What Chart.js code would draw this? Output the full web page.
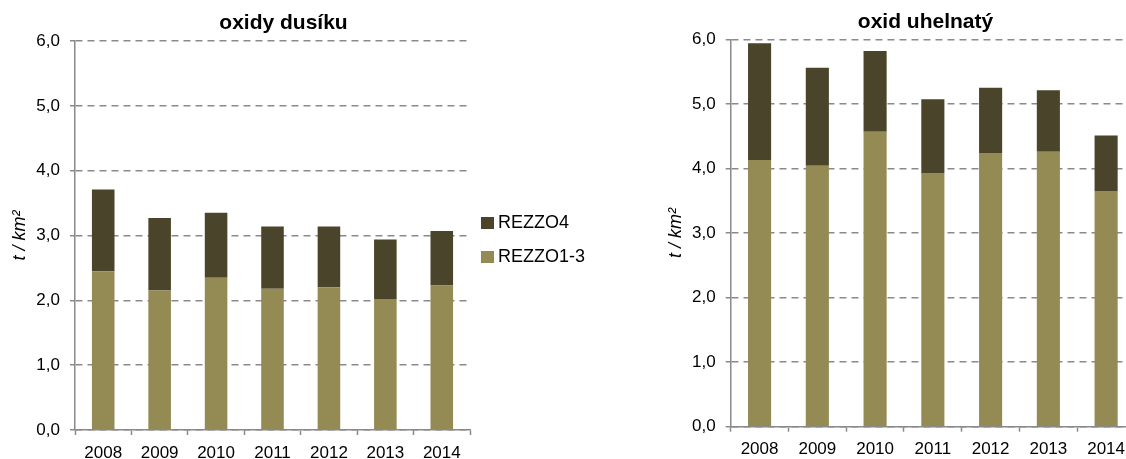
<!DOCTYPE html>
<html>
<head>
<meta charset="utf-8">
<script src="https://cdn.jsdelivr.net/npm/chart.js@4.4.0/dist/chart.umd.min.js"></script>
<style>
  html, body { margin: 0; padding: 0; background: #fff; }
  body { width: 1126px; height: 459px; overflow: hidden; position: relative; }
  canvas { position: absolute; top: 0; }
  #c1 { left: -28px; width: 623px; height: 480px; }
  #c2 { left: 640px; width: 571px; height: 480px; }
</style>
</head>
<body>
<canvas id="c1" width="623" height="480"></canvas>
<canvas id="c2" width="571" height="480"></canvas>
<script>
// ---- data ----
const categories = ['2008', '2009', '2010', '2011', '2012', '2013', '2014'];
const seriesNames = ['REZZO1-3', 'REZZO4'];
const noxRezzo13 = [2.45, 2.15, 2.35, 2.18, 2.20, 2.02, 2.23];
const noxRezzo4  = [1.26, 1.12, 1.00, 0.96, 0.94, 0.92, 0.84];
const coRezzo13  = [4.13, 4.04, 4.57, 3.93, 4.24, 4.26, 3.65];
const coRezzo4   = [1.81, 1.52, 1.25, 1.14, 1.01, 0.95, 0.86];
const yTickLabels = ['0,0', '1,0', '2,0', '3,0', '4,0', '5,0', '6,0'];
const titles = ['oxidy dusíku', 'oxid uhelnatý'];
const yAxisTitle = 't / km²';

// ---- styles ----
const FAMILY = "'Liberation Sans', Arial, sans-serif";
const colR13 = '#948A54';
const colR4 = '#4A452A';
const axisColor = '#8a8a8a';
const gridColor = '#8a8a8a';

Chart.defaults.font.family = FAMILY;
Chart.defaults.color = '#000';

function swatch(color) {
  const c = document.createElement('canvas');
  c.width = 13; c.height = 12;
  const g = c.getContext('2d');
  g.fillStyle = color;
  g.fillRect(0, 0, 13, 12);
  return c;
}
const swatches = [swatch(colR13), swatch(colR4)];

function makeChart(el, d13, d4, cfg) {
  const scales = {
    x: {
      stacked: true,
      ticks: { color: '#000', font: { size: 17 }, padding: cfg.xTickPad, maxRotation: 0, autoSkip: false },
      grid: { drawOnChartArea: false, drawTicks: true, tickLength: 5, tickColor: axisColor, tickWidth: 1.5 },
      border: { display: true, color: axisColor, width: 1.5 },
      afterFit: s => { s.height = cfg.xHeight; }
    },
    y: {
      stacked: true,
      min: 0, max: 6,
      ticks: { stepSize: 1, color: '#000', font: { size: 17 }, padding: 10,
               callback: (v, i) => yTickLabels[i] },
      grid: { color: gridColor, lineWidth: 1.5, drawTicks: true, tickLength: 5,
              tickColor: axisColor, tickWidth: 1.5, tickBorderDash: [] },
      border: { display: true, color: axisColor, width: 1.5, dash: [7, 5] },
      title: { display: true, text: yAxisTitle, color: '#000',
               font: { size: 18, style: 'italic' }, padding: { top: cfg.yTitlePad, bottom: 0 } },
      afterFit: s => { s.width = cfg.yWidth; }
    }
  };
  if (cfg.rightSpace) {
    // empty spacer on the right (outside the visible page) so the title centres like the original
    scales.spacer = {
      type: 'linear', position: 'right', display: true,
      grid: { display: false }, ticks: { display: false }, border: { display: false },
      afterFit: s => { s.width = cfg.rightSpace; }
    };
  }
  return new Chart(el, {
    type: 'bar',
    data: {
      labels: categories,
      datasets: [
        { label: seriesNames[0], data: d13, backgroundColor: colR13, borderWidth: 0,
          barPercentage: 0.4, categoryPercentage: 1.0 },
        { label: seriesNames[1], data: d4, backgroundColor: colR4, borderWidth: 0,
          barPercentage: 0.4, categoryPercentage: 1.0 }
      ]
    },
    options: {
      responsive: false,
      animation: false,
      devicePixelRatio: 1,
      layout: { padding: cfg.layoutPadding },
      plugins: {
        tooltip: { enabled: false },
        title: {
          display: true, text: cfg.title, color: '#000',
          font: { size: 21, weight: 'bold', family: FAMILY },
          padding: cfg.titlePadding
        },
        legend: cfg.legend
      },
      scales: scales
    }
  });
}

makeChart(document.getElementById('c1'), noxRezzo13, noxRezzo4, {
  title: titles[0],
  layoutPadding: { left: 0, right: 0, top: 0, bottom: 0 },
  titlePadding: { top: 11.1, bottom: 4.7 },
  xTickPad: 7.9,
  xHeight: 50,
  yWidth: 103,
  yTitlePad: 37.6,
  legend: {
    display: true,
    position: 'right',
    fullSize: true,
    reverse: true,
    maxWidth: 125,
    labels: {
      usePointStyle: true,
      pointStyleWidth: 3,
      padding: 16,
      color: '#000',
      font: { size: 18 },
      generateLabels: chart => Chart.defaults.plugins.legend.labels.generateLabels(chart)
        .map(it => Object.assign({}, it, { pointStyle: swatches[it.datasetIndex] }))
    }
  }
});

makeChart(document.getElementById('c2'), coRezzo13, coRezzo4, {
  title: titles[1],
  layoutPadding: { left: 0, right: 0, top: 0, bottom: 0 },
  titlePadding: { top: 10.1, bottom: 4 },
  xTickPad: 7.2,
  xHeight: 53.3,
  yWidth: 90.7,
  yTitlePad: 24.9,
  rightSpace: 76,
  legend: { display: false }
});
</script>
</body>
</html>
